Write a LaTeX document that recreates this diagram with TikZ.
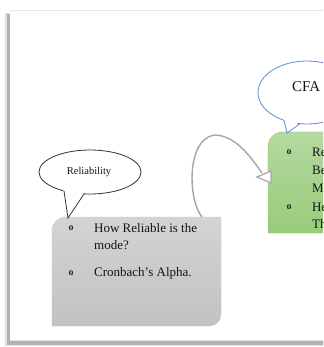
\documentclass[tikz,border=0pt]{standalone}
\usepackage{fontspec}
\setmainfont{Liberation Serif}
\definecolor{greentop}{RGB}{181,217,160}
\definecolor{greenbot}{RGB}{152,204,122}
\definecolor{greenline}{RGB}{145,196,112}
\definecolor{calloutblue}{RGB}{91,139,214}
\begin{document}
\begin{tikzpicture}[x=1pt,y=-1pt,
  bodytext/.style={anchor=west,inner sep=0pt,font=\fontsize{13}{15}\selectfont,text=black!92},
  bulletmark/.style={anchor=center,inner sep=0pt,font=\fontsize{10}{10}\selectfont\bfseries,text=black!85},
  connector/.style={draw=black!35,line width=1.4pt}]
\useasboundingbox (0,0) rectangle (323,347);
\clip (0,0) rectangle (323,347);
% frame with shadow
\fill[white] (0,0) rectangle (323,347);
\fill[black!12] (5,13) rectangle (11,346);
\fill[black!12] (5,339) rectangle (330,346);
\fill[black!30] (6.5,14) rectangle (9.5,344.5);
\fill[black!30] (6.5,340.5) rectangle (330,344.5);
\draw[black!10,line width=1pt] (9,10.5) -- (330,10.5);
\fill[white] (10,11) rectangle (330,339.5);
% green box
\shade[top color=greentop,bottom color=greenbot,draw=greenline]
  (268,233) -- (268,147) .. controls (268,139) and (274,132) .. (283,132) -- (335,132) -- (335,233) -- cycle;
\node[bulletmark] (gb1) at (289,152) {o};
\node[bulletmark] (gb2) at (289,207) {o};
\node[bodytext] (gt1) at (312,152) {Re};
\node[bodytext] (gt2) at (312,170) {Be};
\node[bodytext] (gt3) at (312,188) {M};
\node[bodytext] (gt4) at (312,207) {He};
\node[bodytext] (gt5) at (312,224) {Th};
% gray box
\shade[top color=black!17,bottom color=black!24,draw=black!20]
  (52,326) -- (52,231) .. controls (52,223) and (58,217) .. (66,217) -- (221,217) -- (221,314) .. controls (221,321) and (216,326) .. (209,326) -- cycle;
\node[bulletmark] (rb1) at (71,228) {o};
\node[bulletmark] (rb2) at (71,273) {o};
\node[bodytext] (rt1) at (94,228) {How Reliable is the};
\node[bodytext] (rt2) at (94,245) {mode?};
\node[bodytext] (rt3) at (94,273) {Cronbach’s Alpha.};
% Reliability callout
\draw[black!80,fill=white,line width=0.8pt] (90,172) ellipse [x radius=51pt,y radius=22pt];
\fill[white] (63,188) -- (68,218) -- (85,191) -- cycle;
\draw[black!80,line width=0.8pt,line join=miter] (64,191) -- (68,218) -- (84,194);
\node[inner sep=0pt,font=\fontsize{10.5}{12}\selectfont,text=black!92] (rel) at (89,172) {Reliability};
% CFA callout
\draw[calloutblue,fill=white,line width=0.8pt] (307,92.5) ellipse [x radius=49pt,y radius=31.5pt];
\fill[white] (283,117) -- (287,133) -- (301,120) -- cycle;
\draw[calloutblue,line width=0.8pt] (284,120.3) -- (287,133) -- (300,123.7);
\node[anchor=west,inner sep=0pt,font=\fontsize{15}{17}\selectfont,text=black!92] (cfa) at (292,87) {CFA};
% connector
\coordinate (cstart) at (202,217);
\coordinate (ctop) at (214,135);
\coordinate (cend) at (262,173);
\draw[connector] (cstart) .. controls (188,200) and (186,140) .. (ctop) .. controls (235,135) and (250,156) .. (cend);
\draw[black!35,fill=white,line width=1.2pt,line join=miter] (257,177) -- (271,171) -- (271,183) -- cycle;
\end{tikzpicture}
\end{document}
